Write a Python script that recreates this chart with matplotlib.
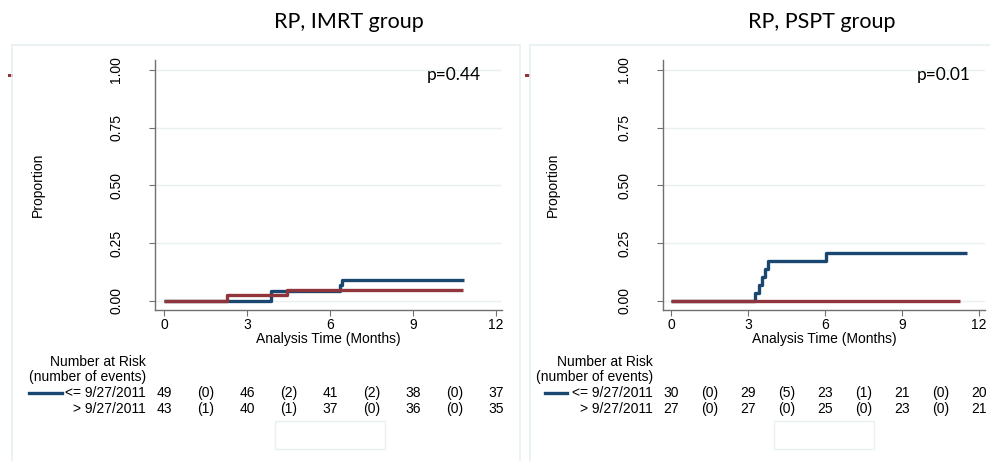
import numpy as np
import matplotlib as mpl
mpl.use("Agg")
from matplotlib import pylab as plt
from matplotlib.patches import Rectangle
from matplotlib.lines import Line2D

# ---- data ----
titles = ["RP, IMRT group", "RP, PSPT group"]
p_values = ["p=0.44", "p=0.01"]
row_labels = ["<= 9/27/2011", "> 9/27/2011"]

# step curves (time in months, cumulative proportion)
imrt_early_t = [0, 3.86, 6.36, 6.42, 10.84]
imrt_early_y = [0, 0.044, 0.066, 0.089, 0.089]
imrt_late_t = [0, 2.27, 4.46, 10.80]
imrt_late_y = [0, 0.023, 0.047, 0.047]
pspt_early_t = [0, 3.27, 3.44, 3.53, 3.66, 3.77, 6.05, 11.52]
pspt_early_y = [0, 0.034, 0.069, 0.103, 0.138, 0.172, 0.207, 0.207]
pspt_late_t = [0, 11.26]
pspt_late_y = [0, 0]

# number at risk table: at risk at 0,3,6,9,12, events in between
imrt_early_risk = ["49", "(0)", "46", "(2)", "41", "(2)", "38", "(0)", "37"]
imrt_late_risk = ["43", "(1)", "40", "(1)", "37", "(0)", "36", "(0)", "35"]
pspt_early_risk = ["30", "(0)", "29", "(5)", "23", "(1)", "21", "(0)", "20"]
pspt_late_risk = ["27", "(0)", "27", "(0)", "25", "(0)", "23", "(0)", "21"]
risk_x = np.arange(0, 12.1, 1.5)

xticks = [0, 3, 6, 9, 12]
yticks = [0, 0.25, 0.5, 0.75, 1.0]

BLUE = "#1a476f"
RED = "#90353b"
GRID = "#e8f0f2"
W, H = 990, 461

plt.rcParams['font.family'] = ['Liberation Sans', 'DejaVu Sans']
fig = plt.figure(figsize=(W / 100, H / 100), dpi=100)


def fx(px):
    return px / W


def fy(py):
    return 1 - py / H


panels = [
    # frame, axis position, zero position, pixels per month, curves, risk rows
    dict(box=(12, 520), ax_left=155, ax_right=502, x0=164, ppm=83 / 3, title_x=349,
         curves=[(imrt_early_t, imrt_early_y, BLUE), (imrt_late_t, imrt_late_y, RED)],
         risk=[imrt_early_risk, imrt_late_risk], lab_right=146, leg=(29, 62),
         ylab_x=38, p_right=481, mark_x=8, blank_w=110),
    dict(box=(530, 1000), ax_left=663, ax_right=985, x0=671, ppm=77 / 3, title_x=822,
         curves=[(pspt_early_t, pspt_early_y, BLUE), (pspt_late_t, pspt_late_y, RED)],
         risk=[pspt_early_risk, pspt_late_risk], lab_right=653, leg=(545, 567),
         ylab_x=553, p_right=971, mark_x=525, blank_w=100),
]

ax_top, ax_bot = 60, 310
y0_px, ppu = 300.7, 230.7

for i, p in enumerate(panels):
    # light panel frame
    b0, b1 = p['box']
    fig.add_artist(Line2D([fx(b0), fx(b1)], [fy(45), fy(45)], color=GRID, lw=1.2))
    fig.add_artist(Line2D([fx(b0), fx(b0)], [fy(45), 0], color=GRID, lw=1.2))
    if b1 < W:
        fig.add_artist(Line2D([fx(b1), fx(b1)], [fy(45), 0], color=GRID, lw=1.2))

    fig.text(fx(p['title_x']), fy(22), titles[i], ha='center', va='center',
             fontsize=15.5, family='Lato')

    ax = fig.add_axes([fx(p['ax_left']), fy(ax_bot), fx(p['ax_right'] - p['ax_left']),
                       (ax_bot - ax_top) / H])
    xmin = (p['ax_left'] - p['x0']) / p['ppm']
    xmax = (p['ax_right'] - p['x0']) / p['ppm']
    ymin = -(ax_bot - y0_px) / ppu
    ymax = (y0_px - ax_top) / ppu
    ax.set_xlim(xmin, xmax)
    ax.set_ylim(ymin, ymax)
    ax.patch.set_alpha(0)
    for s in ['top', 'right']:
        ax.spines[s].set_visible(False)
    for s in ['left', 'bottom']:
        ax.spines[s].set_color('#707070')
        ax.spines[s].set_linewidth(1.0)
    ax.set_xticks(xticks)
    ax.set_yticks(yticks)
    ax.set_yticklabels([f"{v:.2f}" for v in yticks], rotation=90, va='center')
    ax.tick_params(axis='both', color='#707070', length=4, labelsize=10, pad=2)
    ax.tick_params(axis='y', pad=19)
    ax.grid(axis='y', color=GRID, lw=1.0)
    ax.set_axisbelow(True)
    ax.set_xlabel("Analysis Time (Months)", fontsize=10, labelpad=0)

    for t, y, c in p['curves']:
        ax.step(t, y, where='post', color=c, lw=2.4, solid_capstyle='butt', zorder=3)

    fig.text(fx(p['p_right']), fy(75), p_values[i], ha='right', va='center',
             fontsize=12.5, family='Lato')

    fig.text(fx(p['ylab_x']), fy(185), "Proportion", rotation=90, ha='center',
             va='center', fontsize=10)

    # red legend remnant
    fig.add_artist(Rectangle((fx(p['mark_x']), fy(77.5)), fx(5), 3 / H,
                             color=RED, lw=0))

    # number at risk table
    fig.text(fx(p['lab_right']), fy(362), "Number at Risk", ha='right', va='center', fontsize=10)
    fig.text(fx(p['lab_right']), fy(377), "(number of events)", ha='right', va='center', fontsize=10)
    trans = mpl.transforms.blended_transform_factory(ax.transData, fig.transFigure)
    for r, (lab, vals) in enumerate(zip(row_labels, p['risk'])):
        yy = fy(393 + 16 * r)
        fig.text(fx(p['lab_right']), yy, lab, ha='right', va='center', fontsize=10)
        for xv, v in zip(risk_x, vals):
            ax.text(xv, yy, v, transform=trans, ha='center', va='center', fontsize=10,
                    clip_on=False)
    l0, l1 = p['leg']
    fig.add_artist(Line2D([fx(l0), fx(l1)], [fy(393), fy(393)], color=BLUE, lw=2.4))

    # faint empty box under the table
    bx0 = p['x0'] + 4.0 * p['ppm']
    fig.add_artist(Rectangle((fx(bx0), fy(449)), fx(p['blank_w']), 28 / H,
                             fill=False, edgecolor=GRID, lw=1.0))

fig.savefig("out.png", dpi=100)
